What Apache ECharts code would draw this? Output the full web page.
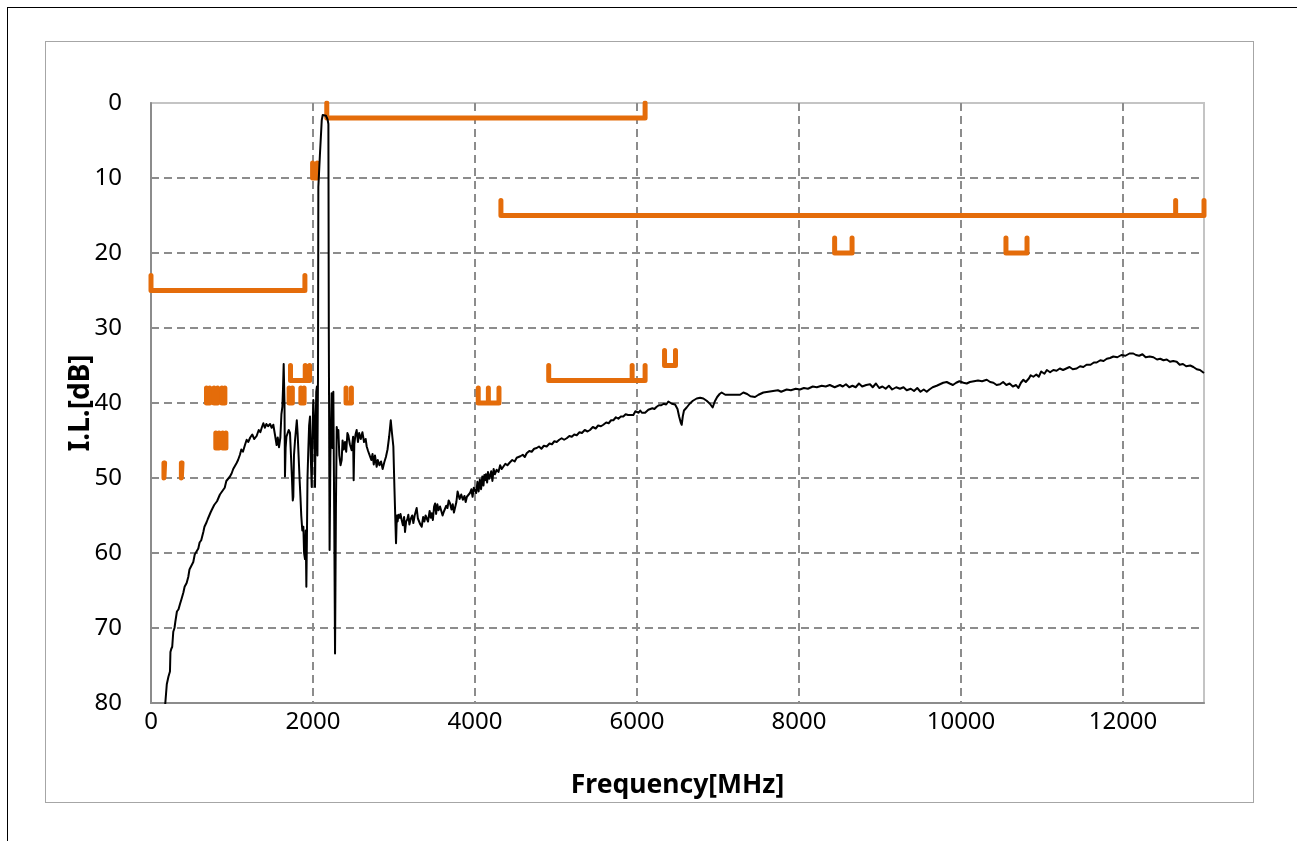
<!DOCTYPE html>
<html>
<head>
<meta charset="utf-8">
<script src="https://cdn.jsdelivr.net/npm/echarts@6/dist/echarts.min.js"></script>
<style>
html,body{margin:0;padding:0;background:#fff;}
#wrap{position:relative;width:1297px;height:841px;overflow:hidden;background:#fff;}
#outer{position:absolute;left:7px;top:7px;width:1400px;height:900px;border-top:1.5px solid #000;border-left:1.5px solid #000;box-sizing:border-box;}
#inner{position:absolute;left:45px;top:41px;width:1209px;height:762px;border:1.5px solid #a6a6a6;box-sizing:border-box;}
#chart{position:absolute;left:0;top:0;width:1297px;height:841px;}
</style>
</head>
<body>
<div id="wrap">
<div id="outer"></div>
<div id="inner"></div>
<div id="chart"></div>
</div>
<script>
// X axis: frequency in MHz, Y axis: insertion loss in dB (inverted)
const xTicks = [0, 2000, 4000, 6000, 8000, 10000, 12000];
const yTicks = [0, 10, 20, 30, 40, 50, 60, 70, 80];

// measured insertion loss trace [MHz, dB]
const measuredIL = [
[173,80.5],[195,77.5],[215,76.5],[234,75.8],[240,73.2],[250,72.8],[262,72.5],[275,70.5],[290,70],[300,69.2],[320,67.8],[340,67.5],[358,66.8],[375,66.2],[399,65.3],[415,64.5],[440,64],[460,63.2],[475,62.2],[495,62],[522,61.2],[540,60.2],[560,60],[584,59.4],[600,58.6],[620,58.3],[646,57.2],[660,56.5],[686,55.9],[700,55.5],[720,55.7],[735,54.6],[748,54.3],[765,54.5],[780,53.6],[800,53.8],[815,53.1],[831,53.2],[851,52.2],[870,52.4],[890,51.6],[910,51.3],[930,50.4],[950,50.6],[975,49.8],[995,49.4],[1015,48.8],[1035,48.9],[1057,48.0],[1075,47.6],[1098,46.9],[1115,46.2],[1135,46.5],[1160,45.6],[1181,44.9],[1200,45.2],[1225,44.6],[1250,44.2],[1275,44.8],[1304,44.4],[1330,43.6],[1350,43.9],[1370,43.2],[1387,42.7],[1405,43.3],[1425,42.8],[1445,43.1],[1470,42.8],[1490,43.3],[1510,42.9],[1530,44.2],[1551,45.6],[1565,44.6],[1580,45.9],[1597,44.6],[1610,41.5],[1622,40.5],[1630,38],[1638,34.8],[1648,40],[1654,49.8],[1662,46],[1672,44.5],[1685,44.6],[1700,43.6],[1716,44.0],[1728,47],[1740,50],[1750,53],[1757,52.5],[1765,47],[1778,45],[1790,43.5],[1800,42.3],[1810,44],[1822,47],[1835,50.3],[1845,52.5],[1855,55],[1868,57],[1881,56.5],[1890,60],[1901,60.8],[1910,57],[1918,64.5],[1925,58],[1932,50],[1942,46.3],[1952,43],[1963,41.8],[1972,47],[1984,51.2],[1992,45],[2004,39.6],[2012,42],[2020,46],[2025,51.2],[2032,44],[2040,38.5],[2048,37.8],[2055,47],[2062,36],[2066,11.2],[2085,7],[2108,2.3],[2120,1.6],[2140,1.5],[2160,1.7],[2180,2.2],[2190,2.8],[2195,30],[2205,59.6],[2215,47],[2230,38.7],[2240,46],[2251,38.5],[2262,55],[2272,73.4],[2283,54],[2293,43.2],[2305,44.6],[2313,43.6],[2325,47],[2340,48.3],[2354,47.6],[2365,45],[2380,46.2],[2395,45.2],[2410,46.5],[2425,44],[2436,44.3],[2455,45.5],[2477,46.3],[2495,44.5],[2502,50.3],[2510,45.5],[2525,44.2],[2539,43.6],[2555,45.2],[2570,44],[2590,44.8],[2610,43.9],[2630,45.2],[2650,44.8],[2663,45.8],[2680,46.4],[2704,46.3],[2720,47.6],[2735,46.8],[2750,48.2],[2765,47],[2786,48.5],[2800,47.6],[2820,48.3],[2840,47.8],[2860,48.8],[2880,47.9],[2900,47.2],[2920,46.2],[2940,44.5],[2960,42.3],[2975,44],[2992,45.8],[3005,51.2],[3025,58.7],[3035,55],[3045,55.8],[3054,54.9],[3070,55.3],[3080,54.8],[3095,55.6],[3110,56.3],[3125,55.2],[3136,57.2],[3150,55.8],[3165,55.5],[3177,54.9],[3190,56.2],[3205,55.5],[3225,55],[3239,56.0],[3255,55],[3270,55.2],[3280,54.0],[3295,55.4],[3310,55.6],[3325,56.2],[3342,56.5],[3360,55.2],[3375,55.8],[3390,55],[3404,54.9],[3420,55.8],[3440,54.4],[3455,55.3],[3466,54.7],[3480,55.6],[3495,53.8],[3507,53.4],[3520,54.8],[3535,53.5],[3550,54.3],[3568,53.8],[3585,53.6],[3600,55],[3615,54.5],[3630,54.3],[3645,53.7],[3660,54],[3675,53],[3692,53.4],[3710,54.2],[3725,53.5],[3740,54.6],[3753,54.5],[3770,53.2],[3785,51.8],[3794,52.0],[3810,52.8],[3830,52.2],[3850,52.9],[3870,52.4],[3885,53.2],[3900,52.5],[3920,52.3],[3938,52.0],[3955,51.5],[3970,52.5],[3985,51.3],[4000,51.2],[4015,52],[4030,50.5],[4045,51.8],[4060,50.2],[4075,51.5],[4090,49.8],[4105,51],[4115,49.6],[4124,50.3],[4135,49.5],[4150,50.6],[4160,49.2],[4175,50.1],[4185,49.8],[4200,49.1],[4215,50.4],[4230,48.8],[4245,49.5],[4268,48.9],[4290,49.2],[4310,48.3],[4330,48.8],[4350,48.7],[4375,48.1],[4400,48.3],[4432,47.9],[4460,47.6],[4490,47.8],[4515,47.3],[4535,47.5],[4560,47.1],[4590,46.9],[4615,47.2],[4638,46.7],[4670,46.4],[4700,46.5],[4730,46.1],[4762,46.0],[4790,45.8],[4820,46.1],[4850,45.7],[4885,45.8],[4920,45.4],[4950,45.5],[4980,45.1],[5009,45.2],[5040,44.9],[5070,44.7],[5100,44.9],[5132,44.7],[5165,44.4],[5195,44.5],[5225,44.2],[5256,44.3],[5290,43.9],[5320,44],[5355,43.6],[5390,43.8],[5420,43.6],[5455,43.2],[5490,43.4],[5520,43],[5555,43.1],[5584,42.9],[5620,42.6],[5650,42.7],[5680,42.3],[5708,42.3],[5740,41.9],[5770,42.1],[5800,41.8],[5831,41.8],[5860,41.5],[5890,41.6],[5920,41.6],[5955,41.6],[5980,41.1],[5996,40.9],[6020,41.3],[6040,41],[6060,41.3],[6078,41.2],[6100,41.3],[6119,41.2],[6140,40.9],[6160,40.9],[6190,40.7],[6215,40.8],[6243,40.5],[6270,40.3],[6300,40.3],[6330,40.1],[6360,40.2],[6387,39.8],[6410,39.8],[6430,40.1],[6449,40.0],[6470,40.2],[6500,40.8],[6520,41.8],[6540,42.6],[6552,42.9],[6565,41.8],[6580,41],[6613,40.6],[6650,40.1],[6690,39.7],[6737,39.4],[6780,39.3],[6819,39.4],[6860,39.7],[6900,40.1],[6934,40.6],[6960,39.8],[6990,39.2],[7020,38.8],[7045,38.6],[7090,38.9],[7148,38.9],[7200,38.9],[7272,38.9],[7313,38.6],[7360,38.8],[7400,39.1],[7457,39.2],[7500,38.9],[7560,38.6],[7621,38.5],[7680,38.4],[7740,38.3],[7780,38.5],[7848,38.2],[7900,38.3],[7960,38.1],[8012,38.2],[8060,38.0],[8110,38.1],[8170,37.8],[8220,37.9],[8280,37.7],[8330,37.8],[8380,37.6],[8440,37.9],[8506,37.6],[8540,37.8],[8580,37.5],[8620,37.9],[8660,37.7],[8700,37.9],[8740,37.4],[8780,37.8],[8830,37.6],[8877,37.5],[8910,37.9],[8950,37.4],[8990,38],[9030,37.8],[9070,38.1],[9110,37.7],[9150,38.2],[9200,37.9],[9247,38.1],[9290,37.9],[9330,38.3],[9380,38.1],[9420,38.4],[9460,38.0],[9500,38.5],[9540,38.2],[9577,38.5],[9610,38.2],[9650,37.9],[9700,37.7],[9740,37.5],[9780,37.3],[9824,37.2],[9860,37.4],[9900,37.6],[9940,37.3],[9980,37.1],[10030,37.3],[10071,37.4],[10110,37.2],[10160,37.1],[10210,37.0],[10260,37.1],[10318,36.9],[10360,37.2],[10400,37.3],[10440,37.6],[10482,37.5],[10520,37.2],[10560,37.6],[10600,37.4],[10640,37.8],[10680,37.6],[10708,38.0],[10740,37.3],[10770,36.9],[10800,37.2],[10840,36.7],[10860,36.3],[10893,36.5],[10930,36.2],[10960,36.5],[10990,35.8],[11030,36.1],[11060,35.6],[11100,35.9],[11140,35.6],[11180,35.7],[11220,35.4],[11260,35.6],[11300,35.4],[11340,35.2],[11380,35.5],[11428,35.4],[11470,35.1],[11510,35.2],[11550,34.9],[11600,34.9],[11640,34.6],[11675,34.6],[11720,34.3],[11760,34.4],[11800,34.1],[11840,34.0],[11880,33.8],[11930,33.9],[11980,33.6],[12030,33.7],[12080,33.4],[12127,33.4],[12160,33.6],[12200,33.7],[12240,33.5],[12280,33.9],[12330,33.8],[12375,33.9],[12420,34.2],[12460,34.1],[12500,34.3],[12540,34.2],[12580,34.5],[12620,34.4],[12663,34.5],[12700,34.9],[12740,34.8],[12780,35.1],[12830,35.0],[12869,35.2],[12910,35.5],[12950,35.6],[13000,36.0]
];

// specification masks [MHz, dB]
const maskPassTop = [[2170,0],[2170,2],[6100,2],[6100,0]];
const maskLowBand = [[0,23],[0,25],[1900,25],[1900,23]];
const maskHighBand = [[4320,13],[4320,15],[12650,15],[12650,13],[12650,15],[13000,15],[13000,13]];
const mask8500 = [[8440,18],[8440,20],[8655,20],[8655,18]];
const mask10700 = [[10555,18],[10555,20],[10815,20],[10815,18]];
const mask6400 = [[6340,33],[6340,35],[6475,35],[6475,33]];
const mask5000 = [[4910,35],[4910,37],[5940,37],[5940,35],[5940,37],[6100,37],[6100,35]];
const mask4100 = [[4040,38],[4040,40],[4165,40],[4165,38],[4165,40],[4296,40],[4296,38]];
const mask2450 = [[2408,38],[2408,40],[2474,40],[2474,38]];
const mask2000 = [[1995,8],[1995,10],[2052,10],[2052,8]];
const mask1900Up = [[1722,35],[1722,37],[1904,37],[1904,35],[1904,37],[1958,37],[1958,35]];
const mask1800a = [[1705,38],[1705,40],[1745,40],[1745,38]];
const mask1800b = [[1850,38],[1850,40],[1890,40],[1890,38]];
const mask800a = [[685,38],[685,40],[725,40],[725,38]];
const mask800b = [[778,38],[778,40],[822,40],[822,38]];
const mask800c = [[875,38],[875,40],[912,40],[912,38]];
const mask850a = [[800,44],[800,46],[840,46],[840,44]];
const mask850b = [[885,44],[885,46],[925,46],[925,44]];
const mask200a = [[160,48],[160,50],[168,50],[168,48]];
const mask200b = [[375,48],[375,50],[383,50],[383,48]];

const masks = [maskPassTop, maskLowBand, maskHighBand, mask8500, mask10700, mask6400, mask5000,
  mask4100, mask2450, mask2000, mask1900Up, mask1800a, mask1800b, mask800a, mask800b, mask800c,
  mask850a, mask850b, mask200a, mask200b];

const ORANGE = '#E46C0A';
const FONT = 'Noto Sans';

const series = masks.map(m => ({
  type: 'line', data: m, showSymbol: false, silent: true, clip: true, z: 2,
  lineStyle: { color: ORANGE, width: 5, cap: 'round', join: 'round' }
}));
series.push({
  type: 'line', data: measuredIL, showSymbol: false, silent: true, clip: true, z: 5,
  lineStyle: { color: '#000', width: 2, join: 'round' }
});

const chart = echarts.init(document.getElementById('chart'), null, { renderer: 'canvas' });
chart.setOption({
  animation: false,
  backgroundColor: 'transparent',
  grid: { left: 151, top: 103, right: 93, bottom: 138, show: true, borderColor: '#c4c4c4', borderWidth: 2, backgroundColor: 'transparent' },
  xAxis: {
    type: 'value', min: xTicks[0], max: 13000, interval: 2000,
    name: 'Frequency[MHz]', nameLocation: 'middle', nameGap: 69, nameMoveOverlap: false,
    nameTextStyle: { fontFamily: FONT, fontSize: 26.5, fontWeight: 'bold', color: '#000' },
    axisLine: { show: true, onZero: false, lineStyle: { color: '#8c8c8c', width: 2 } },
    axisTick: { show: false },
    axisLabel: { fontFamily: FONT, fontSize: 24, color: '#000', margin: 7,
      formatter: v => xTicks.indexOf(v) >= 0 ? String(v) : '' },
    splitLine: { show: true, showMinLine: false, showMaxLine: false,
      lineStyle: { color: '#8c8c8c', width: 2, type: [8, 5] } }
  },
  yAxis: {
    type: 'value', inverse: true, min: yTicks[0], max: yTicks[yTicks.length - 1], interval: 10,
    name: 'I.L.[dB]', nameLocation: 'middle', nameGap: 56, nameRotate: 90, nameMoveOverlap: false,
    nameTextStyle: { fontFamily: FONT, fontSize: 28, fontWeight: 'bold', color: '#000' },
    axisLine: { show: true, onZero: false, lineStyle: { color: '#8c8c8c', width: 2 } },
    axisTick: { show: false },
    axisLabel: { fontFamily: FONT, fontSize: 24, color: '#000', margin: 29 },
    splitLine: { show: true, showMinLine: false, showMaxLine: false,
      lineStyle: { color: '#8c8c8c', width: 2, type: [8, 5] } }
  },
  series: series
});
</script>
</body>
</html>
